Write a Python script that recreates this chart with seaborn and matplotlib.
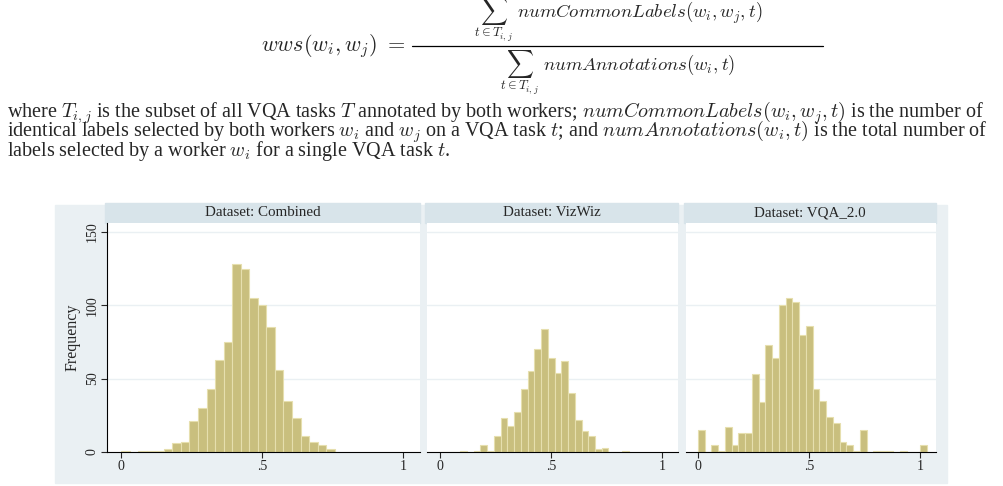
import numpy as np
import pandas as pd
import matplotlib
matplotlib.use("Agg")
import matplotlib.pyplot as plt
import seaborn as sns
from matplotlib.patches import Rectangle
from matplotlib.lines import Line2D

sns.set_style("white")
plt.rcParams['font.family'] = ['Liberation Serif', 'DejaVu Serif']
plt.rcParams['mathtext.fontset'] = 'cm'

bin_width = 1 / 33
datasets = ["Combined", "VizWiz", "VQA_2.0"]
combined_counts = [1, 0, 1, 1, 1, 2, 6, 7, 21, 30, 43, 63, 75, 128, 125, 105, 100,
                   85, 56, 35, 23, 11, 7, 5, 2]
vizwiz_counts = [0, 0, 0, 1, 0, 1, 5, 1, 11, 23, 18, 27, 43, 55, 70, 84, 64, 54, 62,
                 40, 22, 14, 11, 2, 3, 0, 0, 1]
vqa_counts = [15, 0, 5, 1, 17, 5, 13, 13, 53, 34, 73, 64, 100, 105, 102, 80, 86, 43,
              35, 24, 20, 7, 5, 1, 15, 0, 1, 1, 1, 0, 1, 0, 0, 5]
all_counts = [combined_counts, vizwiz_counts, vqa_counts]

fig = plt.figure(figsize=(10.04, 4.86), dpi=100)
W, H = 1004, 486

def fx(px):
    return px / W

def fy(py):
    return 1 - py / H

# formula, laid out by hand
fig.text(fx(405), fy(46), r"$wws(w_i,w_j)\ =$", ha="right", va="center", fontsize=16)
fig.text(fx(618), fy(44), r"$\sum_{t\in T_{i,j}}\ numCommonLabels(w_i,w_j,t)$",
         ha="center", va="bottom", fontsize=13.5)
fig.text(fx(618), fy(49), r"$\sum_{t\in T_{i,j}}\ numAnnotations(w_i,t)$",
         ha="center", va="top", fontsize=13.5)
fig.lines.append(Line2D([fx(412), fx(823)], [fy(46), fy(46)], transform=fig.transFigure,
                        color="black", lw=0.9))

lines = [
    r"where $T_{i,j}$ is the subset of all VQA tasks $T$ annotated by both workers; $numCommonLabels(w_i,w_j,t)$ is the number of",
    r"identical labels selected by both workers $w_i$ and $w_j$ on a VQA task $t$; and $numAnnotations(w_i,t)$ is the total number of",
    r"labels selected by a worker $w_i$ for a single VQA task $t$.",
]
for i, ln in enumerate(lines):
    fig.text(fx(7), fy(113 + 19 * i), ln, ha="left", va="center", fontsize=14.5)

# graph region background
fig.patches.append(Rectangle((fx(55), fy(483)), fx(947) - fx(55), fy(205) - fy(483),
                             transform=fig.transFigure, color="#eaf0f3", zorder=-5))

panels = [(107, 420, -0.05, 1.06), (427, 678, -0.058, 1.07), (686, 936, -0.054, 1.07)]
top, bottom = 223, 452
for k, (x0, x1, lo, hi) in enumerate(panels):
    ax = fig.add_axes([fx(x0), fy(bottom), fx(x1) - fx(x0), fy(top) - fy(bottom)])
    ax.set_facecolor("white")
    counts = np.array(all_counts[k], dtype=float)
    n = len(counts)
    df = pd.DataFrame({"center": (np.arange(n) + 0.5) * bin_width, "count": counts})
    sns.histplot(data=df, x="center", weights="count", binwidth=bin_width,
                 binrange=(0, n * bin_width), ax=ax, color="#c9bf7e",
                 edgecolor="#e6dfae", linewidth=0.8, alpha=1, zorder=2)
    ax.set_xlim(lo, hi)
    ax.set_ylim(0, 156)
    ax.set_xticks([0, 0.5, 1])
    ax.set_xticklabels(["0", ".5", "1"], fontsize=10)
    ax.set_yticks([0, 50, 100, 150])
    for yv in [50, 100, 150]:
        ax.axhline(yv, color="#eaf0f3", lw=1, zorder=1)
    ax.set_xlabel("")
    for s in ["top", "right", "left"]:
        ax.spines[s].set_visible(False)
    ax.spines["bottom"].set_color("black")
    ax.spines["bottom"].set_linewidth(0.8)
    ax.tick_params(axis="x", length=4, width=0.8, direction="out", bottom=True, pad=2)
    if k == 0:
        ax.spines["left"].set_visible(True)
        ax.spines["left"].set_color("black")
        ax.spines["left"].set_linewidth(0.8)
        ax.set_yticklabels(["0", "50", "100", "150"], fontsize=10, rotation=90, va="center")
        ax.tick_params(axis="y", length=4, width=0.8, left=True, pad=2)
        ax.set_ylabel("Frequency", fontsize=11.5, labelpad=4)
    else:
        ax.set_yticklabels([])
        ax.tick_params(axis="y", length=0)
        ax.set_ylabel("")
    # strip header
    fig.patches.append(Rectangle((fx(x0 - 2), fy(223)), fx(x1) - fx(x0 - 2), fy(203) - fy(223),
                                 transform=fig.transFigure, color="#d8e4ea", zorder=-4))
    fig.text((fx(x0 - 2) + fx(x1)) / 2, fy(213), f"Dataset: {datasets[k]}",
             ha="center", va="center", fontsize=10.8)

fig.savefig("out.png", dpi=100)
